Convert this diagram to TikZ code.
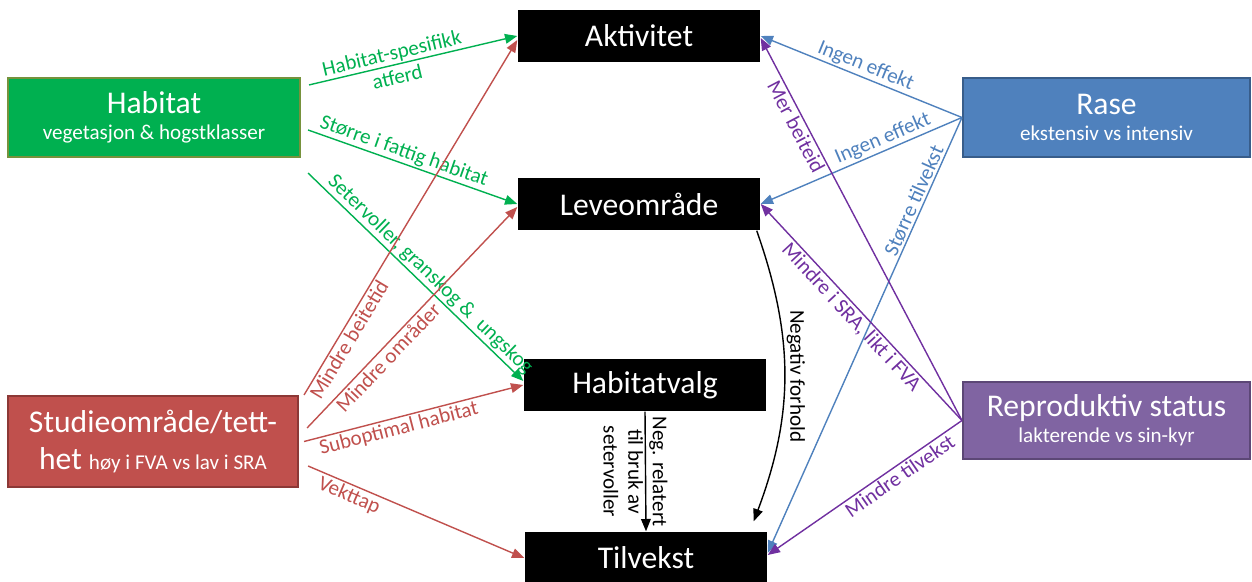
\documentclass[tikz,border=0pt]{standalone}
\usepackage{fontspec}
\setmainfont{Carlito}
\usetikzlibrary{arrows.meta}

\definecolor{habgreen}{RGB}{0,176,80}
\definecolor{habedge}{RGB}{118,146,60}
\definecolor{stured}{RGB}{192,80,77}
\definecolor{stuedge}{RGB}{140,56,54}
\definecolor{raseblue}{RGB}{79,129,189}
\definecolor{raseedge}{RGB}{56,93,138}
\definecolor{repfill}{RGB}{128,100,162}
\definecolor{repedge}{RGB}{92,71,118}
\definecolor{reppurple}{RGB}{112,48,160}

\tikzset{
  blackbox/.style={fill=black, text=white, minimum width=4.84cm, minimum height=1.04cm, font=\fontsize{18}{21}\selectfont},
  factor/.style={text=white, line width=1.2pt, align=center, font=\fontsize{18}{21}\selectfont},
  elabel/.style={font=\fontsize{12}{14}\selectfont, inner sep=1pt, sloped},
  vlabel/.style={font=\fontsize{12}{14}\selectfont, inner sep=1pt, rotate=-90}
}

\begin{document}
\begin{tikzpicture}[>={Triangle[length=7pt,width=5.5pt]}, line width=0.8pt]
  \useasboundingbox (0,0) rectangle (25.04,11.64);

  \node[blackbox] (akt) at (12.78, 10.92) {Aktivitet};
  \node[blackbox] (lev) at (12.78, 7.56) {Leveområde};
  \node[blackbox] (hv) at (12.90, 3.94) {Habitatvalg};
  \node[blackbox] (til) at (12.92, 0.48) {Tilvekst};

  \node[factor, fill=habgreen, draw=habedge, minimum width=5.84cm, minimum height=1.58cm] (hab) at (3.08, 9.29)
    {Habitat\\[-6pt]\fontsize{12}{14}\selectfont vegetasjon \& hogstklasser};
  \node[factor, fill=stured, draw=stuedge, minimum width=5.8cm, minimum height=1.82cm] (stu) at (3.06, 2.81)
    {Studieområde/tett-\\het {\fontsize{12}{14}\selectfont høy i FVA vs lav i SRA}};
  \node[factor, fill=raseblue, draw=raseedge, minimum width=5.74cm, minimum height=1.58cm] (rase) at (22.13, 9.29)
    {Rase\\[-6pt]\fontsize{12}{14}\selectfont ekstensiv vs intensiv};
  \node[factor, fill=repfill, draw=repedge, minimum width=5.74cm, minimum height=1.54cm] (rep) at (22.13, 3.23)
    {Reproduktiv status\\[-6pt]\fontsize{12}{14}\selectfont lakterende vs sin-kyr};

  \draw[->, habgreen] ([shift={(0.16,-0.16)}]hab.north east) -- (akt.west)
    node[elabel, pos=0.41, align=center] {Habitat-spesifikk\\atferd};
  \draw[->, habgreen] ([shift={(0.14,-0.25)}]hab.east) -- (lev.west)
    node[elabel, pos=0.44, above] {Større i fattig habitat};
  \draw[->, habgreen] ([shift={(0.14,-0.3)}]hab.south east) -- ([yshift=0.08cm]hv.west)
    node[elabel, pos=0.53, above] {Setervoller, granskog \&~ ungskog};

  \draw[->, stured] ([xshift=0.1cm]stu.north east) -- ([yshift=-0.08cm]akt.west)
    node[elabel, pos=0.17, below] {Mindre beitetid};
  \draw[->, stured] ([shift={(0.16,0.27)}]stu.east) -- ([yshift=-0.06cm]lev.west)
    node[elabel, pos=0.35, below] {Mindre områder};
  \draw[->, stured] ([xshift=0.1cm]stu.east) -- (hv.west)
    node[elabel, pos=0.42, below] {Suboptimal habitat};
  \draw[->, stured] ([shift={(0.18,-0.49)}]stu.east) -- (til.west)
    node[elabel, pos=0.21, below] {Vekttap};

  \draw[->, raseblue] (rase.west) -- (akt.east)
    node[elabel, pos=0.5, above] {Ingen effekt};
  \draw[->, raseblue] (rase.west) -- (lev.east)
    node[elabel, pos=0.37, above] {Ingen effekt};
  \draw[->, raseblue] (rase.west) -- ([yshift=0.1cm]til.east)
    node[elabel, pos=0.2, above] {Større tilvekst};

  \draw[->, reppurple] (rep.west) -- ([yshift=-0.04cm]akt.east)
    node[elabel, pos=0.78, below] {Mer beiteid};
  \draw[->, reppurple] (rep.west) -- (lev.east)
    node[elabel, pos=0.51, below] {Mindre i SRA, likt i FVA};
  \draw[->, reppurple] (rep.west) -- ([yshift=0.06cm]til.east)
    node[elabel, pos=0.35, below] {Mindre tilvekst};

  \draw[->] ([xshift=-0.08cm]lev.south east) to[bend left=20]
    node[vlabel, midway, anchor=south] {Negativ forhold} ([shift={(-0.28,0.2)}]til.north east);
  \draw[->] (hv.south) -- (til.north)
    node[xshift=-0.2cm, vlabel, midway, align=center] {Neg. relatert\\til bruk av\\setervoller};
\end{tikzpicture}
\end{document}
